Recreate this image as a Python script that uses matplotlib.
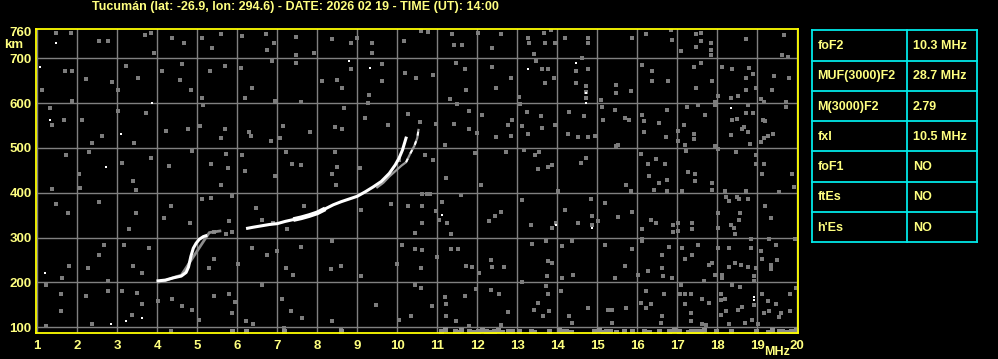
import matplotlib
matplotlib.use("Agg")
import matplotlib.pyplot as plt
import numpy as np

plt.rcParams['font.family'] = ['Liberation Sans', 'DejaVu Sans']
plt.rcParams['font.weight'] = 'bold'

# ---------------- data ----------------
title = "Tucumán (lat: -26.9, lon: 294.6) - DATE: 2026 02 19 - TIME (UT): 14:00"
x_ticks = list(range(1, 21))
y_ticks = [100, 200, 300, 400, 500, 600, 700, 760]

table_names = ["foF2", "MUF(3000)F2", "M(3000)F2", "fxI", "foF1", "ftEs", "h'Es"]
table_values = ["10.3 MHz", "28.7 MHz", "2.79", "10.5 MHz", "NO", "NO", "NO"]

# ordinary trace (white), NaN marks a gap
trace_o_f = [3.98, 4.2, 4.4, 4.6, 4.72, 4.78, 4.84, 4.9, 4.97, 5.05, 5.15, 5.25, np.nan,
             6.22, 6.4, 6.6, 6.8, 7.0, 7.2, 7.4, 7.6, 7.8, 8.0, 8.2, 8.4, 8.6, 8.8, 9.0,
             9.2, 9.4, 9.6, 9.8, 9.95, 10.05, 10.13, 10.23]
trace_o_h = [203, 205, 210, 214, 222, 234, 258, 276, 287, 296, 302, 305, np.nan,
             320, 323, 326, 329, 331, 336, 340, 344, 349, 355, 364, 373, 380, 386, 392,
             402, 413, 425, 443, 462, 478, 495, 525]
# thicker middle part of the trace
thick_f = [7.4, 7.6, 7.8, 8.0, 8.2]
thick_h = [340, 344, 349, 355, 364]
# extraordinary-like branch (mostly grey with white pieces)
trace_x_f = [9.5, 9.65, 9.8, 9.95, 10.1, 10.22, 10.33, 10.43, 10.5, 10.53]
trace_x_h = [412, 422, 436, 448, 460, 468, 488, 505, 522, 540]
# grey halo around lower trace
halo_f = [4.0, 4.2, 4.45, 4.6, 5.3, 5.45, 5.6]
halo_h = [200, 204, 212, 216, 311, 313, 315]

# scattered grey noise pixels
noise_f = [1.48, 1.84, 2.55, 2.78, 3.84, 3.7, 3.93, 4.38, 4.67, 1.7, 1.88, 2.23, 2.88, 3.03,
           3.22, 3.53, 4.12, 4.57, 4.63, 4.84, 1.13, 1.88, 1.32, 1.37, 1.68, 2.13, 2.38, 2.63,
           3.03, 3.72, 4.23, 4.77, 3.42, 2.3, 1.73, 2.05, 3.12, 3.4, 3.84, 4.3, 4.87, 2.08,
           3.48, 1.38, 4.34, 4.18, 4.82, 1.47, 1.76, 2.55, 3.3, 3.47, 2.68, 3.8, 3.17, 2.55,
           1.8, 1.63, 2.26, 2.78, 3.4, 3.63, 1.22, 1.6, 1.6, 2.22, 2.78, 3.12, 3.5, 3.62,
           4.03, 4.38, 4.63, 3.38, 2.38, 1.22, 4.34, 4.88,
           5.13, 5.38, 5.59, 6.13, 6.73, 6.75, 6.92, 7.47, 7.48, 7.93, 8.38, 8.84, 9.0, 5.32,
           5.7, 6.09, 6.88, 7.47, 8.13, 8.5, 8.63, 8.84, 5.13, 5.15, 6.2, 6.38, 6.94, 7.59,
           8.68, 5.08, 5.59, 5.7, 6.3, 6.34, 6.84, 7.15, 7.08, 7.83, 8.45, 8.63, 5.73, 5.78,
           5.34, 6.13, 6.19, 6.95, 7.22, 7.38, 7.59, 8.45, 8.5, 8.38, 8.48, 5.59, 5.13, 5.34,
           5.88, 6.47, 5.8, 6.63, 6.9, 7.25, 7.68, 5.43, 5.73, 5.88, 6.38, 6.75, 7.0, 7.59,
           8.38, 5.3, 5.43, 6.03, 7.22, 7.4, 8.34, 8.59, 5.43, 5.8, 5.95, 6.63, 7.12, 7.34,
           5.88, 6.22, 6.4, 7.63, 8.38, 8.59, 7.17, 5.05,
           9.38, 9.38, 10.17, 10.59, 10.78, 11.38, 11.43, 11.63, 12.03, 12.38, 12.59, 9.63,
           9.63, 10.2, 10.48, 10.9, 11.47, 11.7, 11.73, 11.32, 11.5, 12.38, 12.48, 12.84, 9.3,
           9.27, 9.2, 9.78, 10.28, 10.58, 10.97, 11.42, 11.8, 11.8, 12.0, 12.13, 12.48, 12.84,
           12.88, 12.78, 9.08, 10.05, 10.7, 10.9, 11.2, 11.23, 11.95, 12.09, 12.73, 10.63,
           10.75, 10.83, 9.84, 10.28, 10.63, 10.97, 11.13, 11.59, 11.05, 11.25, 12.3, 12.59,
           12.45, 10.63, 10.45, 11.34, 9.09, 10.13, 10.45, 10.63, 11.34, 11.53, 11.0, 10.59,
           11.73, 11.88, 12.05, 12.34, 12.38, 12.68, 9.09, 10.0, 10.45, 10.59, 11.2, 11.7,
           11.98, 12.34, 12.55, 12.76, 10.05, 10.34, 10.87, 11.22, 11.23, 9.48, 11.47, 11.8,
           12.59,
           13.28, 13.3, 13.43, 13.68, 13.7, 13.95, 14.2, 14.78, 14.78, 15.88, 16.23, 16.88,
           16.84, 13.84, 13.63, 13.78, 13.48, 13.7, 13.93, 14.48, 14.63, 14.78, 14.47, 14.73,
           14.73, 14.73, 15.09, 15.13, 15.47, 15.47, 15.84, 16.38, 16.78, 16.13, 16.37, 13.08,
           13.05, 13.24, 13.13, 13.59, 13.63, 13.95, 13.26, 14.26, 14.51, 14.78, 14.95, 14.3,
           14.68, 15.15, 15.45, 15.7, 15.8, 16.13, 16.17, 16.55, 16.75, 16.73, 16.17, 13.18,
           13.45, 13.55, 13.51, 13.76, 13.88, 14.59, 14.73, 15.47, 15.53, 16.09, 16.28, 16.48,
           16.3, 16.7, 16.55, 16.75, 16.42, 16.75, 15.73, 15.84, 13.13, 14.03, 14.2, 13.97,
           13.88, 14.53, 14.84, 14.88, 14.88, 15.03, 15.2, 15.53, 15.88, 16.13, 16.34, 16.47,
           16.9, 16.9, 13.34, 13.38, 13.73, 13.88, 14.13, 14.38, 15.2, 15.88, 16.12, 16.13,
           16.63, 16.8, 13.76, 13.74, 14.13, 14.4, 15.45, 15.7, 16.02, 16.27, 16.63, 16.65,
           16.87, 13.13, 13.73, 13.78, 14.09, 13.53, 13.8, 13.65, 13.43, 14.3, 14.37, 14.78,
           15.28, 15.38, 15.38, 15.73, 16.23, 16.23, 16.34, 16.67, 16.63, 16.09, 16.59,
           17.48, 17.59, 17.59, 17.84, 17.84, 17.84, 17.09, 17.48, 18.73, 19.68, 19.63, 19.78,
           17.59, 17.43, 18.13, 18.37, 18.8, 18.9, 18.73, 17.88, 17.48, 18.73, 18.98, 19.38,
           19.42, 19.8, 18.03, 18.53, 18.34, 19.09, 19.17, 19.73, 17.95, 17.95, 17.24, 17.51,
           17.7, 18.78, 18.9, 18.72, 18.5, 18.38, 19.15, 19.2, 19.26, 19.4, 19.17, 19.09,
           19.73, 18.68, 18.78, 18.63, 18.34, 17.43, 17.43, 17.03, 17.03, 17.18, 17.2, 17.95,
           18.03, 18.82, 17.23, 17.28, 17.45, 17.45, 17.88, 17.88, 17.13, 18.48, 18.98, 18.98,
           19.17, 19.13, 19.88, 19.93, 18.2, 18.73, 19.55, 18.23, 18.3, 18.5, 18.55, 18.78,
           17.03, 17.03, 17.38, 17.38, 18.03, 18.03, 18.34, 18.43, 18.45, 18.55, 18.57, 19.2,
           19.34, 18.84, 19.3, 19.95, 17.13, 17.53, 17.2, 17.38, 17.8, 17.88, 18.03, 18.3,
           18.45, 18.3, 18.59, 18.78, 18.84, 18.97, 19.09, 19.13, 19.34, 19.34, 19.48, 19.5,
           17.95, 18.13, 18.13, 18.93, 18.93, 17.68, 17.09, 18.38, 18.57, 17.07, 17.2, 17.35,
           17.2, 17.63, 17.8, 18.09, 18.09, 18.2, 18.93, 19.12, 19.28, 19.48, 19.83, 19.97,
           19.3, 19.55, 19.59, 19.83, 17.35, 17.35, 18.09, 18.22, 18.53, 18.63, 18.7, 18.3,
           18.87, 19.03, 19.17, 17.63, 17.73]
noise_h = [757, 756, 738, 738, 756, 752, 712, 745, 734, 672, 672, 654, 648, 630,
           682, 656, 671, 652, 686, 630, 630, 605, 589, 550, 563, 563, 511, 526,
           583, 578, 537, 541, 511, 491, 483, 441, 467, 427, 478, 459, 493, 411,
           407, 409, 370, 344, 333, 374, 355, 380, 318, 355, 284, 277, 284, 262,
           236, 209, 233, 203, 236, 221, 195, 173, 136, 169, 180, 180, 177, 152,
           159, 163, 147, 128, 106, 102, 91, 138,
           744, 723, 753, 749, 754, 719, 734, 747, 708, 712, 742, 734, 745, 671,
           682, 678, 693, 689, 649, 652, 634, 675, 612, 595, 612, 634, 604, 603,
           589, 548, 522, 541, 536, 526, 515, 548, 522, 536, 546, 541, 487, 455,
           464, 483, 449, 437, 491, 464, 461, 491, 457, 441, 417, 418, 387, 389,
           392, 366, 336, 340, 333, 318, 371, 313, 308, 313, 277, 262, 270, 279,
           293, 232, 251, 240, 232, 217, 229, 236, 169, 173, 157, 195, 162, 137,
           132, 113, 106, 121, 113, 95, 99, 117,
           734, 712, 738, 760, 758, 754, 730, 730, 756, 723, 753, 686,
           649, 667, 656, 663, 689, 675, 630, 610, 597, 680, 634, 656, 619,
           600, 567, 550, 576, 558, 553, 553, 541, 582, 533, 573, 524, 526,
           563, 552, 455, 474, 483, 474, 507, 433, 489, 417, 491, 396,
           396, 396, 374, 370, 370, 359, 380, 394, 338, 333, 336, 357,
           348, 333, 310, 308, 362, 284, 275, 273, 275, 275, 256, 232,
           236, 234, 221, 249, 235, 235, 214, 240, 195, 188, 167, 169,
           186, 184, 173, 134, 117, 126, 147, 151, 126, 149, 113, 102,
           104,
           746, 733, 710, 756, 733, 733, 745, 745, 733, 744, 753, 740,
           762, 762, 675, 675, 693, 645, 656, 671, 701, 675, 645, 612,
           625, 638, 606, 591, 641, 623, 626, 650, 649, 684, 671, 597,
           613, 580, 548, 571, 545, 550, 530, 530, 524, 524, 526, 580,
           571, 563, 585, 567, 563, 574, 559, 556, 585, 524, 536, 496,
           484, 490, 452, 457, 461, 467, 478, 504, 507, 487, 464, 475,
           437, 464, 422, 429, 407, 403, 418, 403, 383, 403, 362, 333,
           322, 333, 387, 329, 348, 336, 377, 346, 358, 318, 340, 333,
           329, 313, 329, 286, 292, 243, 281, 292, 284, 275, 292, 296,
           262, 278, 247, 214, 210, 217, 210, 236, 217, 226, 231, 214,
           210, 201, 191, 173, 180, 154, 137, 125, 139, 125, 110, 143,
           139, 139, 110, 143, 180, 143, 152, 173, 126, 154, 110,
           753, 756, 738, 734, 708, 718, 717, 725, 742, 751, 708, 703,
           690, 680, 680, 675, 678, 665, 656, 649, 634, 630, 634, 630,
           660, 656, 615, 615, 612, 608, 603, 603, 603, 595, 591, 595,
           573, 595, 578, 578, 565, 563, 563, 559, 526, 531, 522, 513,
           591, 546, 536, 541, 528, 530, 519, 537, 515, 552, 507, 504,
           498, 509, 493, 447, 442, 427, 422, 407, 403, 491, 485, 464,
           464, 441, 442, 412, 403, 403, 401, 390, 381, 390, 387, 385,
           333, 314, 333, 320, 355, 322, 329, 322, 307, 338, 355, 370,
           344, 297, 297, 297, 277, 284, 253, 262, 238, 243, 277, 277,
           243, 234, 238, 235, 277, 232, 270, 253, 238, 229, 284, 249,
           217, 217, 210, 214, 203, 203, 195, 195, 189, 173, 173, 173,
           152, 162, 154, 173, 160, 162, 149, 173, 158, 151, 173, 188,
           136, 122, 131, 136, 132, 113, 128, 136, 139, 145, 110, 108,
           117, 108, 132, 106, 104]

# isolated bright (white) noise pixels
spot_f = [1.48, 1.08, 1.33, 3.09, 3.88, 2.73, 1.2, 2.84, 3.23, 3.63, 8.8, 9.33, 11.13,
          13.28, 14.48, 14.73, 14.73, 14.87, 13.97, 18.34, 18.93, 18.93]
spot_h = [734, 680, 563, 530, 600, 457, 221, 106, 113, 121, 693, 678, 351,
          675, 690, 623, 600, 322, 329, 589, 167, 160]

# dense interference just above the bottom edge
floor_f = [5.88, 6.22, 7.17, 8.59, 11.09, 11.2, 11.45, 11.51, 11.6, 11.8, 11.9, 12.01, 12.13,
           12.22, 12.32, 12.43, 12.51, 12.63, 12.76, 12.88, 13.05, 13.34, 13.43, 13.8, 14.05,
           14.13, 14.22, 14.34, 14.93, 15.05, 15.15, 15.23, 15.32, 15.47, 15.68, 15.88, 16.17,
           16.3, 16.55, 16.8, 16.93, 17.05, 17.26, 17.34, 17.47, 17.59, 17.68, 17.97, 18.34,
           18.97, 19.26, 19.38, 19.55, 19.63, 19.75, 19.84, 19.92, 19.98]
floor_h = [92, 92, 92, 92, 92, 95, 92, 90, 93, 92, 90, 92, 93,
           92, 90, 92, 93, 90, 92, 91, 92, 91, 90, 92, 93,
           91, 92, 90, 92, 93, 90, 92, 91, 90, 92, 91, 92,
           90, 92, 91, 93, 91, 90, 92, 92, 91, 93, 92, 91,
           92, 90, 93, 92, 91, 90, 92, 91, 93]

# ---------------- styling ----------------
YEL = '#ffff80'
FRAME = '#ffff00'
GRID = '#808080'
NOISE = '#7c7c7c'
CYAN = '#00e8e8'
W, H = 998, 359

fig = plt.figure(figsize=(W / 100, H / 100), dpi=100, facecolor='black')

def rect(x0, y0, x1, y1):
    return [x0 / W, 1 - y1 / H, (x1 - x0) / W, (y1 - y0) / H]

ax = fig.add_axes(rect(35.7, 29.3, 798.0, 333.0))
ax.set_facecolor('black')
ax.set_xlim(0.96, 20.02)
ax.set_ylim(87, 764.5)

ax.set_xticks(x_ticks)
ax.set_xticklabels([str(v) for v in x_ticks])
ax.set_yticks(y_ticks)
ax.set_yticklabels([str(v) for v in y_ticks])
ax.tick_params(axis='both', length=0, colors=YEL, labelsize=9.5)
ax.tick_params(axis='x', pad=5)
ax.tick_params(axis='y', pad=3)
for lab in ax.get_xticklabels() + ax.get_yticklabels():
    lab.set_fontweight('bold')
    lab.set_color(YEL)

for v in x_ticks:
    ax.axvline(v, color=GRID, lw=1.0, zorder=1)
for v in y_ticks[:-1]:
    ax.axhline(v, color=GRID, lw=1.0, zorder=1)

for s in ax.spines.values():
    s.set_color(FRAME)
    s.set_linewidth(1.3)
    s.set_zorder(10)

ax.plot(noise_f, noise_h, linestyle='none', marker='s', ms=2.2, mew=0,
        color=NOISE, zorder=2)
ax.plot(floor_f, floor_h, linestyle='none', marker='s', ms=3.6, mew=0,
        color='#8c8c8c', zorder=2, clip_on=True)
ax.plot(halo_f, halo_h, color='#8c8c8c', lw=2.0, zorder=3, solid_capstyle='butt')
ax.plot(trace_x_f, trace_x_h, color='#9a9a9a', lw=1.6, zorder=3)
ax.plot(trace_x_f[5:], trace_x_h[5:], color='white', lw=1.4, zorder=4, dashes=(2, 3))
ax.plot(trace_o_f, trace_o_h, color='white', lw=2.2, zorder=5, solid_capstyle='butt')
ax.plot(thick_f, thick_h, color='white', lw=3.4, zorder=5, solid_capstyle='butt')
ax.plot(spot_f, spot_h, linestyle='none', marker='s', ms=1.9, mew=0,
        color='white', zorder=5)

# texts
fig.text(295 / W, 1 - 7 / H, title, ha='center', va='center', color=YEL,
         fontsize=9, fontweight='bold')
fig.text(13.5 / W, 1 - 45.5 / H, 'km', ha='center', va='center', color=YEL,
         fontsize=9.5, fontweight='bold')
fig.text(777 / W, 1 - 352 / H, 'MHz', ha='center', va='center', color=YEL,
         fontsize=9, fontweight='bold')

# parameter table
tx0, ty0, tx1, ty1 = 812.3, 30.3, 977.3, 242.3
tax = fig.add_axes(rect(tx0, ty0, tx1, ty1))
tax.set_facecolor('black')
tax.set_xlim(tx0, tx1)
tax.set_ylim(ty1, ty0)
tax.axis('off')
nrow = len(table_names)
rh = (ty1 - ty0) / nrow
xdiv = 907.3
for i in range(nrow + 1):
    tax.plot([tx0, tx1], [ty0 + i * rh] * 2, color=CYAN, lw=1.3, clip_on=False)
tax.plot([tx0, tx0], [ty0, ty1], color=CYAN, lw=1.3, clip_on=False)
tax.plot([tx1, tx1], [ty0, ty1], color=CYAN, lw=1.3, clip_on=False)
tax.plot([xdiv, xdiv], [ty0, ty1], color=CYAN, lw=1.3, clip_on=False)
for i, (n, v) in enumerate(zip(table_names, table_values)):
    yc = ty0 + (i + 0.5) * rh + 0.5
    tax.text(817.3, yc, n, ha='left', va='center', color=YEL, fontsize=9,
             fontweight='bold')
    tax.text(912.7, yc, v, ha='left', va='center', color=YEL, fontsize=9,
             fontweight='bold')

fig.savefig('out.png', dpi=100, facecolor='black')
